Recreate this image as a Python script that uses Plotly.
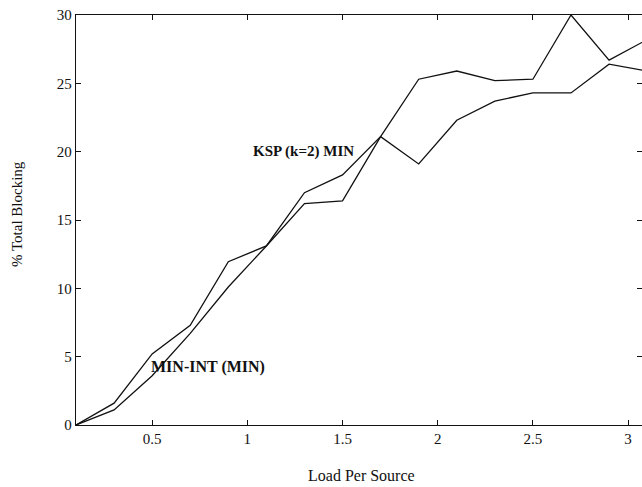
import plotly.graph_objects as go

load = [0.1, 0.3, 0.5, 0.7, 0.9, 1.1, 1.3, 1.5, 1.7, 1.9, 2.1, 2.3, 2.5, 2.7, 2.9, 3.1]
series_a = [0.0, 1.6, 5.2, 7.3, 11.95, 13.1, 17.0, 18.3, 21.1, 19.1, 22.3, 23.7, 24.3, 24.3, 26.4, 25.9]
series_b = [0.0, 1.1, 3.6, 6.7, 10.1, 13.1, 16.2, 16.4, 21.1, 25.3, 25.9, 25.2, 25.3, 30.0, 26.7, 28.2]

x_ticks = [0.5, 1, 1.5, 2, 2.5, 3]
x_tick_labels = ["0.5", "1", "1.5", "2", "2.5", "3"]
y_ticks = [0, 5, 10, 15, 20, 25, 30]

FONT = "Liberation Serif"
INK = "#111111"

fig = go.Figure()
for ys in (series_a, series_b):
    fig.add_trace(go.Scatter(x=load, y=ys, mode="lines",
                             line=dict(color=INK, width=1.3),
                             showlegend=False, hoverinfo="skip"))

fig.add_annotation(x=1.02, y=20, xref="x", yref="y", text="<b>KSP (k=2) MIN</b>",
                   showarrow=False, xanchor="left", yanchor="middle",
                   font=dict(family=FONT, size=15, color=INK))
fig.add_annotation(x=0.485, y=4.25, xref="x", yref="y", text="<b>MIN-INT (MIN)</b>",
                   showarrow=False, xanchor="left", yanchor="middle",
                   font=dict(family=FONT, size=16, color=INK))

fig.add_annotation(x=0.505, y=-0.122, xref="paper", yref="paper", text="Load Per Source",
                   showarrow=False, xanchor="center", yanchor="middle",
                   font=dict(family=FONT, size=16, color=INK))
fig.add_annotation(x=-0.104, y=0.515, xref="paper", yref="paper", text="% Total Blocking",
                   showarrow=False, xanchor="center", yanchor="middle", textangle=-90,
                   font=dict(family=FONT, size=15, color=INK))

axis_common = dict(showgrid=False, zeroline=False, showline=True, linecolor=INK,
                   linewidth=1.3, mirror="ticks", ticks="inside", ticklen=5,
                   tickcolor=INK, tickwidth=1,
                   tickfont=dict(family=FONT, size=15, color=INK))

fig.update_xaxes(range=[0.1, 3.073], tickvals=x_ticks, ticktext=x_tick_labels, **axis_common)
fig.update_yaxes(range=[0, 30], tickvals=y_ticks, **axis_common)

fig.update_layout(width=642, height=487, margin=dict(l=76, r=0, t=15, b=62),
                  plot_bgcolor="white", paper_bgcolor="white",
                  font=dict(family=FONT, color=INK))

fig.write_html("out.html", config={"displayModeBar": False, "staticPlot": True},
               post_script="document.body.style.margin='0';document.body.style.overflow='hidden';")
